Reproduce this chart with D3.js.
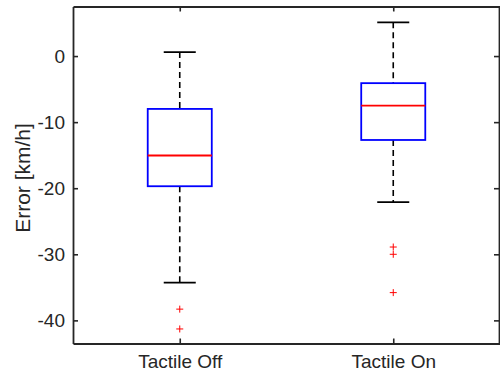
<!DOCTYPE html>
<html>
<head>
<meta charset="utf-8">
<script src="https://cdn.jsdelivr.net/npm/d3@7"></script>
<style>
  body { margin: 0; background: #fff; }
  svg { display: block; font-family: "Liberation Sans", Arial, sans-serif; }
</style>
</head>
<body>
<svg width="500" height="376"></svg>
<script>
// box stats
const groups = ["Tactile Off", "Tactile On"];
const whiskerHigh = [0.6, 5.1];
const q3 = [-8.0, -4.1];
const median = [-15.05, -7.5];
const q1 = [-19.7, -12.7];
const whiskerLow = [-34.3, -22.1];
const outliers = [[-38.3, -41.3], [-28.9, -30.0, -35.8]];
const yTicks = [-40, -30, -20, -10, 0];

const svg = d3.select("svg");
const plotL = 73, plotR = 500, plotT = 6.5, plotB = 343.5;
const ink = "#262626";

const x = d3.scaleLinear().domain([0.5, 2.5]).range([plotL, plotR]);
const y = d3.scaleLinear().domain([-43.5, 7.5]).range([plotB, plotT]);

const data = groups.map((g, i) => ({
  name: g, pos: i + 1,
  hi: whiskerHigh[i], q3: q3[i], med: median[i], q1: q1[i], lo: whiskerLow[i],
  out: outliers[i]
}));

const boxW = 0.15, capW = 0.075;

// whiskers
const g = svg.append("g");
g.append("g").selectAll("line").data(data).join("line")
    .attr("x1", d => x(d.pos)).attr("x2", d => x(d.pos))
    .attr("y1", d => y(d.hi)).attr("y2", d => y(d.q3))
    .attr("stroke", "#000").attr("stroke-width", 1.6).attr("stroke-dasharray", "6,4");
g.append("g").selectAll("line").data(data).join("line")
    .attr("x1", d => x(d.pos)).attr("x2", d => x(d.pos))
    .attr("y1", d => y(d.q1)).attr("y2", d => y(d.lo))
    .attr("stroke", "#000").attr("stroke-width", 1.6).attr("stroke-dasharray", "6,4");
// caps
["hi", "lo"].forEach(k => {
  g.append("g").selectAll("line").data(data).join("line")
      .attr("x1", d => x(d.pos - capW)).attr("x2", d => x(d.pos + capW))
      .attr("y1", d => y(d[k])).attr("y2", d => y(d[k]))
      .attr("stroke", "#000").attr("stroke-width", 1.8);
});
// boxes
g.append("g").selectAll("rect").data(data).join("rect")
    .attr("x", d => x(d.pos - boxW))
    .attr("width", d => x(d.pos + boxW) - x(d.pos - boxW))
    .attr("y", d => y(d.q3))
    .attr("height", d => y(d.q1) - y(d.q3))
    .attr("fill", "none").attr("stroke", "#0000ff").attr("stroke-width", 1.8);
// medians
g.append("g").selectAll("line").data(data).join("line")
    .attr("x1", d => x(d.pos - boxW)).attr("x2", d => x(d.pos + boxW))
    .attr("y1", d => y(d.med)).attr("y2", d => y(d.med))
    .attr("stroke", "#ff0000").attr("stroke-width", 1.8);
// outliers
const pts = data.flatMap(d => d.out.map(v => ({pos: d.pos, v})));
g.append("g").selectAll("path").data(pts).join("path")
    .attr("d", d => {
      const cx = x(d.pos), cy = y(d.v), r = 3.5;
      return `M${cx - r},${cy}H${cx + r}M${cx},${cy - r}V${cy + r}`;
    })
    .attr("stroke", "#ff0000").attr("stroke-width", 1).attr("fill", "none");

// axes (MATLAB style box with inward ticks)
const axisStyle = sel => {
  sel.select(".domain").attr("stroke", ink).attr("stroke-width", 1.8);
  sel.selectAll(".tick line").attr("stroke", ink).attr("stroke-width", 1.6);
  sel.selectAll("text").attr("fill", ink).attr("font-size", 19)
     .attr("font-family", "Liberation Sans, Arial, sans-serif");
};

svg.append("g").attr("transform", `translate(${plotL},0)`)
    .call(d3.axisLeft(y).tickValues(yTicks).tickSizeInner(-5).tickSizeOuter(0).tickPadding(8).tickFormat(d => String(d)))
    .call(axisStyle);
svg.append("g").attr("transform", `translate(${plotR - 1},0)`)
    .call(d3.axisRight(y).tickValues(yTicks).tickSizeInner(-5).tickSizeOuter(0).tickFormat(""))
    .call(axisStyle);
svg.append("g").attr("transform", `translate(0,${plotB})`)
    .call(d3.axisBottom(x).tickValues([1, 2]).tickSizeInner(-5).tickSizeOuter(0).tickPadding(11)
      .tickFormat(d => groups[d - 1]))
    .call(axisStyle);
svg.append("g").attr("transform", `translate(0,${plotT})`)
    .call(d3.axisTop(x).tickValues([1, 2]).tickSizeInner(-5).tickSizeOuter(0).tickFormat(""))
    .call(axisStyle);

svg.append("text")
    .attr("transform", `translate(30,${(plotT + plotB) / 2 + 3}) rotate(-90)`)
    .attr("text-anchor", "middle")
    .attr("fill", ink).attr("font-size", 21)
    .text("Error [km/h]");
</script>
</body>
</html>
